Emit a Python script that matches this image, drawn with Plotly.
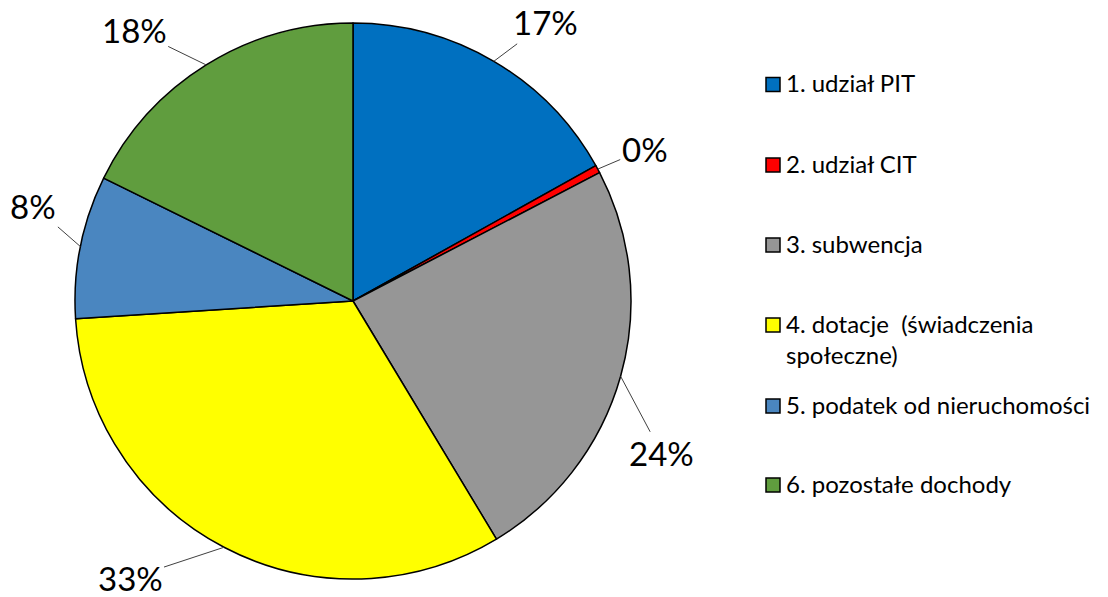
import math
import plotly.graph_objects as go

# ---- data ----
categories = ["1. udział PIT", "2. udział CIT", "3. subwencja",
              "4. dotacje  (świadczenia<br>społeczne)",
              "5. podatek od nieruchomości", "6. pozostałe dochody"]
values = [16.9, 0.45, 24.0, 32.6, 8.3, 17.7]
colors = ["#0070C0", "#FF0000", "#969696", "#FFFF00", "#4A86C0", "#609D3E"]

# ---- layout/style ----
W, H = 1108, 597
cx, cy, R = 353, 301, 278
label_offsets = [(52, -39), (47, -20), (41, 77), (-94, 31), (-47, -41), (-72, -35)]
legend_x = 766
legend_y = [84.5, 165, 245, 325, 406, 485]
FONT = "Lato"


def px(x):
    return x / W


def py(y):
    return 1 - y / H


fig = go.Figure()
fig.add_trace(go.Pie(
    labels=categories, values=values, sort=False, direction="clockwise",
    rotation=0, textinfo="none", hoverinfo="label+percent",
    marker=dict(colors=colors, line=dict(color="black", width=1.5)),
    domain=dict(x=[px(cx - R), px(cx + R)], y=[py(cy + R), py(cy - R)]),
    showlegend=False,
))

annotations = []
shapes = []
total = sum(values)
cum = 0.0
for v, (dx, dy) in zip(values, label_offsets):
    mid = (cum + v / 2) / total * 2 * math.pi
    cum += v
    ex = cx + R * math.sin(mid)
    ey = cy - R * math.cos(mid)
    annotations.append(dict(
        x=px(ex), y=py(ey), xref="paper", yref="paper",
        text=f"{round(v / total * 100)}%", showarrow=True, arrowhead=0,
        arrowwidth=1, arrowcolor="#404040", ax=dx, ay=dy, standoff=0,
        font=dict(family=FONT, size=33, color="black"),
    ))

sq = 14
for name, col, yc in zip(categories, colors, legend_y):
    shapes.append(dict(
        type="rect", xref="paper", yref="paper",
        x0=px(legend_x), x1=px(legend_x + sq), y0=py(yc + sq / 2), y1=py(yc - sq / 2),
        fillcolor=col, line=dict(color="black", width=1.5),
    ))
    annotations.append(dict(
        x=px(legend_x + sq + 4), y=py(yc - 18), xref="paper", yref="paper",
        xanchor="left", yanchor="top", align="left", showarrow=False,
        text=name, font=dict(family=FONT, size=24, color="black"),
    ))

fig.update_layout(
    width=W, height=H, margin=dict(l=0, r=0, t=0, b=0),
    paper_bgcolor="white", plot_bgcolor="white",
    annotations=annotations, shapes=shapes,
)
fig.write_html("out.html", config={"displayModeBar": False},
               post_script="document.body.style.margin='0';")
